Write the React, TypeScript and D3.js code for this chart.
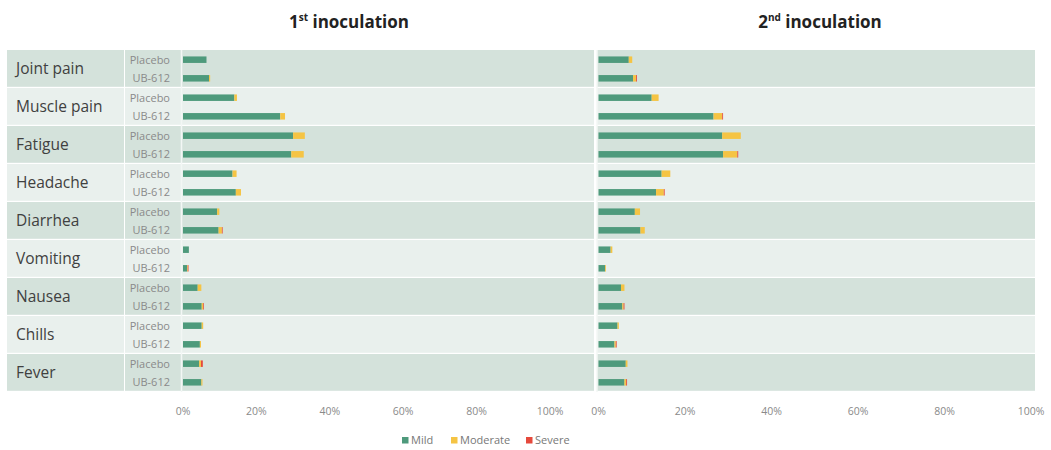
import React from "react";
import * as d3 from "d3";

const categories = ["Joint pain", "Muscle pain", "Fatigue", "Headache", "Diarrhea", "Vomiting", "Nausea", "Chills", "Fever"];
const groups = ["Placebo", "UB-612"];
const severities = ["Mild", "Moderate", "Severe"];
const tickValues = [0, 20, 40, 60, 80, 100];

// values in %, order: category x group (Placebo, UB-612)
const dose1Mild = [6.4, 7.1, 14.0, 26.5, 30.0, 29.5, 13.5, 14.4, 9.3, 9.7, 1.6, 1.1, 4.0, 5.1, 5.1, 4.6, 4.4, 5.0];
const dose1Moderate = [0, 0.3, 0.7, 1.3, 3.2, 3.4, 1.1, 1.4, 0.6, 0.9, 0, 0.2, 1.0, 0.4, 0.4, 0.3, 0.5, 0.3];
const dose1Severe = [0, 0, 0, 0, 0, 0, 0, 0, 0, 0.2, 0, 0.2, 0, 0.2, 0, 0, 0.5, 0];

const dose2Mild = [7.0, 8.0, 12.3, 26.6, 28.6, 28.8, 14.6, 13.3, 8.4, 9.7, 2.8, 1.5, 5.2, 5.5, 4.4, 3.7, 6.3, 6.0];
const dose2Moderate = [0.8, 0.7, 1.6, 2.0, 4.3, 3.3, 2.0, 1.8, 1.2, 1.0, 0.4, 0.2, 0.8, 0.3, 0.3, 0.3, 0.4, 0.4];
const dose2Severe = [0, 0.2, 0, 0.2, 0, 0.2, 0, 0.2, 0, 0, 0, 0, 0, 0.2, 0, 0.2, 0, 0.2];

const COLORS = ["#4e9a7c", "#f5c444", "#e5493c"];
const BG_DARK = "#d4e2db";
const BG_LIGHT = "#e9f0ed";
const FONT = "'Open Sans', 'DejaVu Sans', sans-serif";

const W = 1051;
const H = 450;
const TOP = 50;
const BOTTOM = 392;

function buildRows(mild: number[], mod: number[], sev: number[]) {
  return mild.map((m, i) => ({
    cat: categories[Math.floor(i / 2)],
    group: groups[i % 2],
    Mild: m,
    Moderate: mod[i],
    Severe: sev[i],
  }));
}

export default function App() {
  const yCat = d3.scaleBand<string>().domain(categories).range([TOP, BOTTOM]).padding(0);
  const yGrp = d3.scaleBand<string>().domain(groups).range([0, yCat.bandwidth()]).paddingInner(0.0).paddingOuter(0.02);
  const xL = d3.scaleLinear().domain([0, 100]).range([183, 550]);
  const xR = d3.scaleLinear().domain([0, 100]).range([598.5, 1031]);
  const stack = d3.stack<any>().keys(severities);
  const panels = [
    { x: xL, rows: buildRows(dose1Mild, dose1Moderate, dose1Severe), bgX0: 125, bgX1: 594, title: "1", sup: "st", tx: 349 },
    { x: xR, rows: buildRows(dose2Mild, dose2Moderate, dose2Severe), bgX0: 597, bgX1: 1035, title: "2", sup: "nd", tx: 820 },
  ];
  const barH = 6.5;

  return (
    <svg width={W} height={H} style={{ position: "absolute", left: 0, top: 0, display: "block", background: "#fff" }} fontFamily={FONT}>
      {categories.map((c, i) => (
        <rect key={"cbg" + c} x={7} y={yCat(c)!} width={117} height={yCat.bandwidth() - 1.2} fill={i % 2 === 0 ? BG_DARK : BG_LIGHT} />
      ))}
      {categories.map((c) => (
        <text key={"cl" + c} x={16} y={yCat(c)! + yCat.bandwidth() / 2} dy="0.35em" fontSize={15.5} fill="#404040">
          {c}
        </text>
      ))}
      {panels.map((p, pi) => (
        <g key={"p" + pi}>
          {categories.map((c, i) => (
            <rect key={"bg" + c} x={p.bgX0} y={yCat(c)!} width={p.bgX1 - p.bgX0} height={yCat.bandwidth() - 1.2} fill={i % 2 === 0 ? BG_DARK : BG_LIGHT} />
          ))}
          <line x1={p.x(0) - 1.5} x2={p.x(0) - 1.5} y1={TOP} y2={BOTTOM} stroke="#f3f7f5" strokeWidth={1.5} />
          {pi === 0 &&
            p.rows.map((r, i) => (
              <text key={"gl" + i} x={170} y={yCat(r.cat)! + yGrp(r.group)! + yGrp.bandwidth() / 2} dy="0.35em" textAnchor="end" fontSize={11} fill="#8a8a8a">
                {r.group}
              </text>
            ))}
          {stack(p.rows).map((layer, li) => (
            <g key={"layer" + li} fill={COLORS[li]}>
              {layer.map((d, i) => {
                const r = p.rows[i];
                const yc = yCat(r.cat)! + yGrp(r.group)! + yGrp.bandwidth() / 2;
                const w = p.x(d[1]) - p.x(d[0]);
                if (w <= 0) return null;
                return <rect key={i} x={p.x(d[0])} y={yc - barH / 2} width={w} height={barH} />;
              })}
            </g>
          ))}
          {tickValues.map((t) => (
            <text key={"t" + t} x={p.x(t)} y={411} dy="0.35em" textAnchor="middle" fontSize={10.5} fill="#8a8a8a">
              {t + "%"}
            </text>
          ))}
          <text x={p.tx} y={28} textAnchor="middle" fontSize={17} fontWeight="bold" fill="#222">
            {p.title}
            <tspan fontSize={10} dy={-7}>{p.sup}</tspan>
            <tspan dy={7}>{" inoculation"}</tspan>
          </text>
        </g>
      ))}
      {severities.map((s, i) => {
        const lx = [402, 451, 526][i];
        return (
          <g key={"lg" + s}>
            <rect x={lx} y={437} width={6.5} height={6.5} fill={COLORS[i]} />
            <text x={lx + 9} y={440.5} dy="0.35em" fontSize={11} fill="#777">
              {s}
            </text>
          </g>
        );
      })}
    </svg>
  );
}
